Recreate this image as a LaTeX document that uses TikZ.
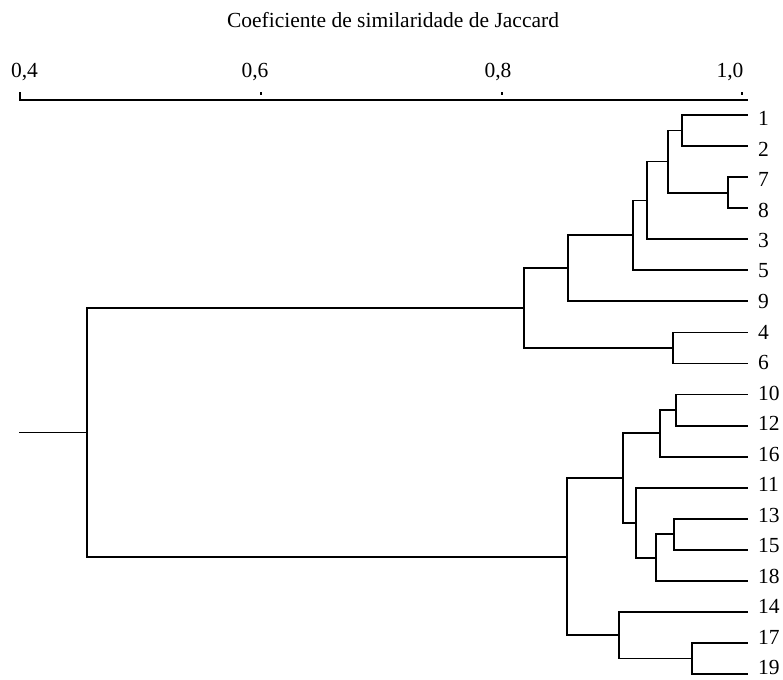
\documentclass[tikz,border=0pt]{standalone}
\usepackage{fontspec}
\setmainfont{Liberation Serif}
\begin{document}
\begin{tikzpicture}[x=1pt,y=-1pt,
  link/.style={line width=1.8pt,line cap=rect},
  lab/.style={anchor=west,inner sep=0pt,font=\fontsize{21.5}{24}\selectfont},
  ticklab/.style={anchor=base,inner sep=0pt,font=\fontsize{21.5}{24}\selectfont}]
\useasboundingbox (0,0) rectangle (783,679);
% title and axis
\node[ticklab] (title) at (393,28) {Coeficiente de similaridade de Jaccard};
\coordinate (axL) at (20,100);
\coordinate (axR) at (747,100);
\draw[link] (axL) -- (axR);
\coordinate (tk4) at (20,93);
\coordinate (tk6a) at (261,92.5); \coordinate (tk6b) at (261,95.5);
\coordinate (tk8a) at (502,92.5); \coordinate (tk8b) at (502,95.5);
\coordinate (tk10a) at (742,92.5); \coordinate (tk10b) at (742,95.5);
\draw[link] (tk4) -- (axL);
\draw[line width=1.6pt] (tk6a) -- (tk6b);
\draw[line width=1.6pt] (tk8a) -- (tk8b);
\draw[line width=1.6pt] (tk10a) -- (tk10b);
\node[ticklab] (l4) at (24.5,78) {0,4};
\node[ticklab] (l6) at (255,78) {0,6};
\node[ticklab] (l8) at (498,78) {0,8};
\node[ticklab] (l10) at (730,78) {1,0};
% leaves
\foreach \n/\i in {1/0,2/1,7/2,8/3,3/4,5/5,9/6,4/7,6/8,10/9,12/10,16/11,11/12,13/13,15/14,18/15,14/16,17/17,19/18}{
  \coordinate (L\n) at (747,{115+31.06*\i});
  \node[lab] (T\n) at (758,{118.5+30.5*\i}) {\n};
}
% internal nodes
\coordinate (n12) at (682,130.53);
\coordinate (n78) at (728,192.65);
\coordinate (n1278) at (668,161.59);
\coordinate (n3) at (647,200.41);
\coordinate (n5) at (633,235.36);
\coordinate (n9) at (568,268.36);
\coordinate (n46) at (673,347.95);
\coordinate (ntop) at (524,308.16);
\coordinate (n1012) at (676,410.07);
\coordinate (n16) at (660,433.37);
\coordinate (n1315) at (674,534.31);
\coordinate (n18) at (656,557.6);
\coordinate (n11) at (636,522.66);
\coordinate (nA) at (623,478.0);
\coordinate (n1719) at (692,658.55);
\coordinate (n14) at (619,635.26);
\coordinate (nbot) at (567,556.63);
\coordinate (root) at (87,432.4);
\coordinate (stub) at (20,432.4);
% links
\draw[link] (L1) -| (n12) |- (L2);
\draw[link] (L7) -| (n78) |- (L8);
\draw[link] (n12) -| (n1278) |- (n78);
\draw[link] (n1278) -| (n3) |- (L3);
\draw[link] (n3) -| (n5) |- (L5);
\draw[link] (n5) -| (n9) |- (L9);
\draw[link] (L4) -| (n46) |- (L6);
\draw[link] (n9) -| (ntop) |- (n46);
\draw[link] (L10) -| (n1012) |- (L12);
\draw[link] (n1012) -| (n16) |- (L16);
\draw[link] (L13) -| (n1315) |- (L15);
\draw[link] (n1315) -| (n18) |- (L18);
\draw[link] (L11) -| (n11) |- (n18);
\draw[link] (n16) -| (nA) |- (n11);
\draw[link] (L17) -| (n1719) |- (L19);
\draw[link] (L14) -| (n14) |- (n1719);
\draw[link] (nA) -| (nbot) |- (n14);
\draw[link] (ntop) -| (root) |- (nbot);
\draw[link] (stub) -- (root);
\end{tikzpicture}
\end{document}
